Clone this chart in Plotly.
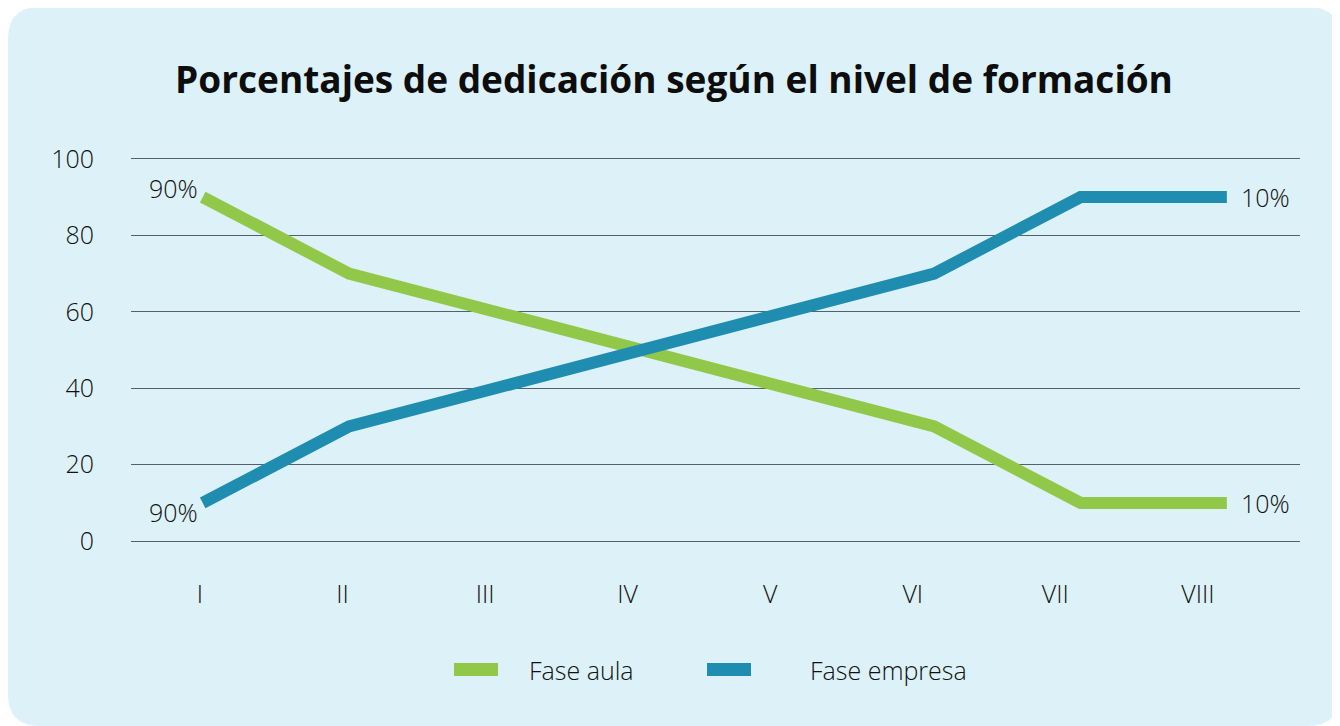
import plotly.graph_objects as go

# ---- data ----
categories = ["I", "II", "III", "IV", "V", "VI", "VII", "VIII"]
fase_aula = [90, 70, 60, 50, 40, 30, 10, 10]
fase_empresa = [10, 30, 40, 50, 60, 70, 90, 90]
series_names = ["Fase aula", "Fase empresa"]
start_labels = ["90%", "90%"]   # labels shown at the first point (aula, empresa)
end_labels = ["10%", "10%"]     # labels shown at the last point (aula, empresa)
y_ticks = [0, 20, 40, 60, 80, 100]
title_text = "Porcentajes de dedicación según el nivel de formación"

# ---- styling / layout ----
W, H = 1332, 718
L, R = 123, 1292          # plot area x in pixels
T, B = 147, 537           # plot area y in pixels (y range -1..101)
GREEN = "#92C84A"
BLUE = "#1F8DB0"
PANEL = "#DDF1F8"
GRID = "#56606A"
TXT = "#111111"
FONT = "Open Sans"
LIGHT = 300


def px2paper(x, y):
    return (x - L) / (R - L), (B - y) / (B - T)


def rounded_rect(x0, y0, x1, y1, r):
    def P(x, y):
        px, py = px2paper(x, y)
        return f"{px:.5f},{py:.5f}"
    return (f"M{P(x0 + r, y0)} L{P(x1 - r, y0)} Q{P(x1, y0)} {P(x1, y0 + r)} "
            f"L{P(x1, y1 - r)} Q{P(x1, y1)} {P(x1 - r, y1)} "
            f"L{P(x0 + r, y1)} Q{P(x0, y1)} {P(x0, y1 - r)} "
            f"L{P(x0, y0 + r)} Q{P(x0, y0)} {P(x0 + r, y0)} Z")


fig = go.Figure()
colors = [GREEN, BLUE]
for name, vals, col in zip(series_names, [fase_aula, fase_empresa], colors):
    fig.add_trace(go.Scatter(x=categories, y=vals, mode="lines", name=name,
                             line=dict(color=col, width=12), showlegend=False))
# invisible trace carrying the category tick labels on the label axis
fig.add_trace(go.Scatter(x=categories, y=fase_aula, xaxis="x2", mode="lines",
                         line=dict(width=0, color="rgba(0,0,0,0)"),
                         hoverinfo="skip", showlegend=False))

tf = dict(family=FONT, size=25, color=TXT, weight=LIGHT)

annotations = [
    dict(x=categories[0], y=fase_aula[0], text=start_labels[0], xanchor="right",
         yanchor="middle", xshift=-3, yshift=9, showarrow=False),
    dict(x=categories[0], y=fase_empresa[0], text=start_labels[1], xanchor="right",
         yanchor="middle", xshift=-3, yshift=-9, showarrow=False),
    dict(x=categories[-1], y=fase_empresa[-1], text=end_labels[1], xanchor="left",
         yanchor="middle", xshift=12, showarrow=False),
    dict(x=categories[-1], y=fase_aula[-1], text=end_labels[0], xanchor="left",
         yanchor="middle", xshift=12, showarrow=False),
]
for a in annotations:
    a["font"] = tf

# custom legend (swatch + name), positioned in pixels
shapes = [dict(type="path", xref="paper", yref="paper", layer="below",
               path=rounded_rect(0, -1, W, H, 32),
               fillcolor=PANEL, line=dict(width=0))]
legend_pos = [(446, 519), (699, 800)]
for (sx, tx), name, col in zip(legend_pos, series_names, colors):
    x0, y0 = px2paper(sx, 668)
    x1, y1 = px2paper(sx + 44, 655)
    shapes.append(dict(type="rect", xref="paper", yref="paper", x0=x0, x1=x1,
                       y0=y0, y1=y1, fillcolor=col, line=dict(width=0)))
    ax, ay = px2paper(tx, 662)
    annotations.append(dict(xref="paper", yref="paper", x=ax, y=ay, text=name,
                            xanchor="left", yanchor="middle", showarrow=False,
                            font=tf))

fig.update_layout(
    width=W, height=H,
    margin=dict(l=L, r=W - R, t=T, b=H - B, pad=0),
    paper_bgcolor="white",
    plot_bgcolor="rgba(0,0,0,0)",
    font=dict(family=FONT, size=25, color=TXT),
    title=dict(text=title_text, x=0.5, xanchor="center", xref="container",
               y=1 - 72 / H, yanchor="middle", yref="container",
               font=dict(family=FONT, size=37, color="#0d0d0d", weight="bold")),
    xaxis=dict(type="category", range=[-0.49, 7.5], showgrid=False,
               zeroline=False, showline=False, ticks="", showticklabels=False),
    xaxis2=dict(type="category", overlaying="x", anchor="y", side="bottom",
                range=[-0.484, 7.716], showgrid=False, zeroline=False,
                showline=False, ticks="", ticklabelstandoff=32, tickfont=tf),
    yaxis=dict(range=[-1, 101], tickvals=y_ticks, showgrid=True, gridcolor=GRID,
               gridwidth=1, zeroline=False, showline=False, ticks="",
               ticklabelstandoff=36, tickfont=tf),
    showlegend=False,
    annotations=annotations,
    shapes=shapes,
)

fig.write_html("out.html")
